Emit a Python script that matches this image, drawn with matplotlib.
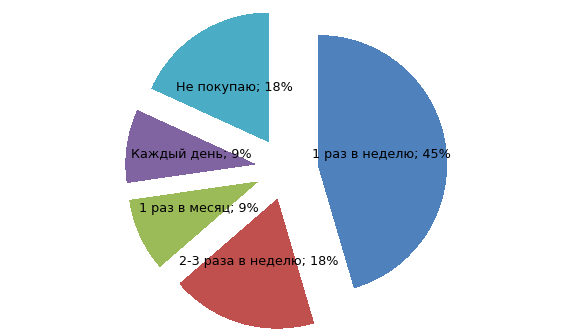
import numpy as np
import matplotlib
matplotlib.use("Agg")
import matplotlib.pyplot as plt

CATEGORIES = ["1 раз в неделю", "2-3 раза в неделю", "1 раз в месяц", "Каждый день", "Не покупаю"]
PERCENTS = [45, 18, 9, 9, 18]
COLORS = ["#4F81BD", "#C0504D", "#9BBB59", "#8064A2", "#4BACC6"]

RADIUS = 1.0
EXPLODE = 0.249
LABEL_DIST = 0.5


def main() -> None:
    fig = plt.figure(figsize=(5.76, 3.36), dpi=100)
    ax = fig.add_axes([0, 0, 1, 1])
    wedges, _ = ax.pie(
        PERCENTS,
        colors=COLORS,
        startangle=90,
        counterclock=False,
        radius=RADIUS,
        explode=[EXPLODE] * len(PERCENTS),
        wedgeprops={"linewidth": 0, "antialiased": False},
    )
    for w, nom, p in zip(wedges, CATEGORIES, PERCENTS):
        th = np.deg2rad((w.theta1 + w.theta2) / 2)
        cx, cy = w.center
        ax.text(cx + LABEL_DIST * RADIUS * np.cos(th), cy + LABEL_DIST * RADIUS * np.sin(th),
                f"{nom}; {p}%", ha="center", va="center", fontsize=9.2, color="black")
    ax.set_aspect("equal")
    ax.set_xlim(-2.2246, 2.251)
    ax.set_ylim(-1.2999, 1.3108)
    ax.axis("off")
    fig.savefig("out.png", dpi=100)
    plt.close(fig)


if __name__ == "__main__":
    main()
